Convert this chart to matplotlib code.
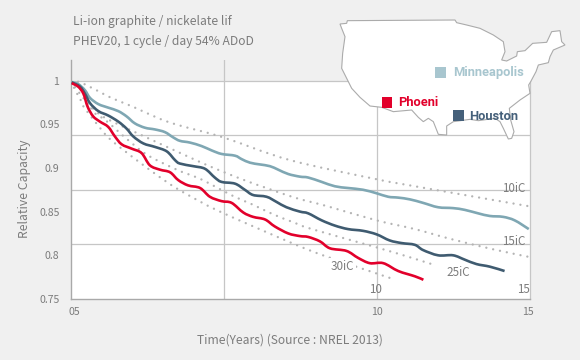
import matplotlib
matplotlib.use('Agg')
import matplotlib.pyplot as plt
from matplotlib.patches import Polygon, Rectangle, PathPatch
from matplotlib.path import Path
from matplotlib.transforms import ScaledTranslation
import numpy as np

# measured curves (years, relative capacity)
minneapolis_x = [0.04, 0.25, 0.47, 0.64, 0.91, 1.23, 1.56, 1.83, 2.10, 2.43, 2.76, 3.08, 3.35, 3.57, 3.90, 4.28, 4.61, 4.93, 5.37, 5.59, 5.86, 6.18, 6.51, 6.78, 7.11, 7.49, 7.76, 8.20, 8.63, 9.06, 9.55, 9.99, 10.37, 10.70, 11.08, 11.51, 12.0, 12.49, 12.87, 13.31, 13.69, 14.12, 14.5, 14.96]
minneapolis_y = [0.998, 0.996, 0.989, 0.980, 0.973, 0.969, 0.965, 0.959, 0.951, 0.946, 0.944, 0.941, 0.935, 0.931, 0.929, 0.925, 0.920, 0.916, 0.914, 0.910, 0.906, 0.904, 0.902, 0.898, 0.893, 0.890, 0.889, 0.884, 0.879, 0.877, 0.875, 0.871, 0.867, 0.866, 0.864, 0.860, 0.855, 0.854, 0.852, 0.848, 0.845, 0.844, 0.840, 0.830]
houston_x = [0.04, 0.31, 0.47, 0.64, 0.91, 1.23, 1.56, 1.83, 2.05, 2.38, 2.76, 3.14, 3.41, 3.57, 4.01, 4.39, 4.71, 4.93, 5.37, 5.69, 5.96, 6.40, 6.73, 7.05, 7.49, 7.76, 8.20, 8.63, 9.06, 9.55, 9.99, 10.42, 10.81, 11.24, 11.51, 12.0, 12.49, 12.87, 13.25, 13.69, 14.17]
houston_y = [0.998, 0.993, 0.985, 0.974, 0.965, 0.960, 0.953, 0.945, 0.936, 0.928, 0.924, 0.919, 0.909, 0.905, 0.902, 0.899, 0.889, 0.884, 0.882, 0.875, 0.869, 0.867, 0.861, 0.855, 0.850, 0.848, 0.840, 0.834, 0.830, 0.828, 0.824, 0.817, 0.814, 0.812, 0.806, 0.800, 0.800, 0.795, 0.790, 0.787, 0.782]
phoenix_x = [0.04, 0.25, 0.42, 0.56, 0.74, 0.96, 1.23, 1.45, 1.67, 2.0, 2.32, 2.59, 2.92, 3.25, 3.52, 3.84, 4.23, 4.55, 4.93, 5.26, 5.64, 5.96, 6.35, 6.67, 7.11, 7.49, 7.76, 8.14, 8.47, 9.01, 9.39, 9.77, 10.21, 10.70, 11.24, 11.52]
phoenix_y = [0.997, 0.993, 0.985, 0.970, 0.959, 0.953, 0.947, 0.936, 0.927, 0.922, 0.917, 0.903, 0.898, 0.895, 0.886, 0.880, 0.877, 0.867, 0.862, 0.860, 0.849, 0.844, 0.841, 0.833, 0.825, 0.822, 0.821, 0.816, 0.808, 0.805, 0.797, 0.791, 0.791, 0.782, 0.776, 0.772]

# dotted reference curves
ic10_x = [0.02, 0.31, 0.90, 1.34, 2.04, 2.86, 3.52, 4.98, 7.16, 10.0, 11.08, 14.99]
ic10_y = [0.999, 0.998, 0.988, 0.980, 0.970, 0.957, 0.949, 0.935, 0.909, 0.887, 0.880, 0.856]
ic15_x = [0.02, 0.18, 0.47, 0.96, 1.55, 2.04, 3.96, 4.81, 5.75, 6.40, 7.32, 8.40, 9.99, 11.24, 12.38, 13.78, 14.99]
ic15_y = [0.999, 0.991, 0.978, 0.961, 0.950, 0.942, 0.911, 0.898, 0.885, 0.877, 0.866, 0.856, 0.840, 0.830, 0.819, 0.807, 0.798]
ic25_x = [0.02, 0.41, 0.73, 1.13, 1.55, 1.81, 2.50, 3.47, 4.06, 4.49, 5.30, 5.95, 6.61, 7.26, 7.88, 10.0, 11.24, 11.96]
ic25_y = [0.999, 0.989, 0.965, 0.955, 0.942, 0.934, 0.915, 0.898, 0.890, 0.883, 0.868, 0.858, 0.847, 0.838, 0.830, 0.809, 0.796, 0.788]
ic30_x = [0.02, 0.18, 0.31, 0.41, 0.96, 1.32, 2.27, 3.18, 3.79, 4.88, 7.16, 8.24, 9.67, 10.52]
ic30_y = [0.999, 0.987, 0.980, 0.971, 0.946, 0.932, 0.906, 0.883, 0.870, 0.850, 0.815, 0.800, 0.783, 0.773]

y_ticks = [1, 0.95, 0.9, 0.85, 0.8, 0.75]
y_tick_labels = ['1', '0.95', '0.9', '0.85', '0.8', '0.75']
x_ticks = [0, 10, 15]
x_tick_labels = ['05', '10', '15']
y_grid = [1, 0.9375, 0.875, 0.8125]

map_outline = [(150, 72), (170, 70), (172, 62), (495, 60), (500, 68), (530, 75), (570, 85), (610, 105), (640, 125), (645, 155), (635, 180), (650, 183), (680, 168), (682, 155), (705, 152), (728, 130), (770, 127), (785, 95), (810, 92), (815, 125), (825, 135), (790, 150), (780, 170), (775, 188), (745, 195), (738, 215), (722, 245), (716, 255), (720, 280), (690, 300), (658, 325), (662, 360), (672, 395), (665, 415), (655, 417), (640, 385), (630, 365), (615, 355), (565, 362), (540, 358), (490, 365), (470, 378), (470, 405), (445, 403), (430, 365), (415, 355), (400, 365), (385, 352), (365, 330), (310, 335), (275, 322), (240, 318), (210, 292), (185, 265), (170, 235), (155, 205), (158, 160), (165, 110), (155, 85)]

BG = '#f0f0f0'
GRID = '#c6c6c6'
AXIS = '#a9a9a9'
TEXT = '#7c7c7c'
TEAL = '#7fa7b3'
NAVY = '#3f5b70'
RED = '#e2002b'
DOT = '#b4b4b4'
FONT = ['Noto Sans CJK KR', 'DejaVu Sans']

plt.rcParams['font.family'] = FONT


def smooth_path(xs, ys):
    # bezier through the read values, the reference curves have no corners
    p = np.column_stack([xs, ys])
    verts = [p[0]]
    codes = [Path.MOVETO]
    for i in range(len(p) - 1):
        before = p[max(i - 1, 0)]
        after = p[min(i + 2, len(p) - 1)]
        verts += [p[i] + (p[i + 1] - before) / 6, p[i + 1] - (after - p[i]) / 6, p[i + 1]]
        codes += [Path.CURVE4] * 3
    return Path(verts, codes)


fig = plt.figure(figsize=(5.8, 3.6), dpi=100, facecolor=BG)
ax = fig.add_axes([70.5 / 580, (360 - 299) / 360, 459.5 / 580, 239 / 360], facecolor=BG)
ax.set_xlim(0, 15)
ax.set_ylim(0.75, 1.0235)
ax.axhspan(0.75, 1, color='white', lw=0, zorder=0)

for v in y_grid:
    ax.plot([0, 15], [v, v], color=GRID, lw=0.9, zorder=1)
ax.plot([5, 5], [0.75, 1.0235], color=GRID, lw=0.9, zorder=1)
ax.plot([10, 10], [0.75, 1], color=GRID, lw=0.9, zorder=1)
ax.plot([15, 15], [0.75, 1], color=GRID, lw=0.9, zorder=1, clip_on=False)

for xs, ys in [(ic10_x, ic10_y), (ic15_x, ic15_y), (ic25_x, ic25_y), (ic30_x, ic30_y)]:
    ax.add_patch(PathPatch(smooth_path(xs, ys), facecolor='none', edgecolor=DOT, lw=1.7, capstyle='round',
                           linestyle=(0, (0.01, 2.95)), zorder=2))

ax.add_patch(PathPatch(smooth_path(minneapolis_x, minneapolis_y), facecolor='none', edgecolor=TEAL, lw=1.9, zorder=3))
ax.add_patch(PathPatch(smooth_path(houston_x, houston_y), facecolor='none', edgecolor=NAVY, lw=1.9, zorder=4))
ax.add_patch(PathPatch(smooth_path(phoenix_x, phoenix_y), facecolor='none', edgecolor=RED, lw=1.9, zorder=5))

for s in ['top', 'right']:
    ax.spines[s].set_visible(False)
for s in ['left', 'bottom']:
    ax.spines[s].set_color(AXIS)
    ax.spines[s].set_linewidth(1.0)

ax.set_yticks(y_ticks, y_tick_labels)
ax.set_xticks(x_ticks, x_tick_labels)
ax.tick_params(length=0, labelsize=7.6, labelcolor=TEXT)
ax.tick_params(axis='y', pad=8)
ax.tick_params(axis='x', pad=6)
# the outer x labels sit slightly inside the tick position
for lab, dx in zip(ax.get_xticklabels(), [3.5, 0, -2]):
    lab.set_transform(lab.get_transform() + ScaledTranslation(dx / 100, 0, fig.dpi_scale_trans))

# overlay in picture pixels for the map and free text
ov = fig.add_axes([0, 0, 1, 1], facecolor='none')
ov.set_xlim(0, 580)
ov.set_ylim(360, 0)
ov.axis('off')

pts = np.array(map_outline) / 3 + [290, 0]
ov.add_patch(Polygon(pts, closed=True, facecolor='white', edgecolor='#ababab', lw=0.8))

squares = [(435, 67, '#a8c6cf'), (381.7, 97, '#e2002b'), (453.3, 110, '#45607a')]
for x, y, c in squares:
    ov.add_patch(Rectangle((x, y), 10.7, 10.7, facecolor=c, edgecolor='none'))

map_font = dict(family=['Roboto', 'DejaVu Sans'], weight='bold', va='center', fontsize=9.3)
ov.text(452.7, 72.5, 'Minneapolis', color='#a8c6cf', **map_font)
ov.text(398.3, 102.5, 'Phoeni', color=RED, **map_font)
ov.text(469, 116, 'Houston', color='#45607a', **map_font)

ov.text(73, 21, 'Li-ion graphite / nickelate lif', color=TEXT, fontsize=8.7, va='center')
ov.text(73, 41, 'PHEV20, 1 cycle / day 54% ADoD', color=TEXT, fontsize=8.7, va='center')
ov.text(290, 340, 'Time(Years) (Source : NREL 2013)', color=TEXT, fontsize=8.7, ha='center', va='center')
ov.text(25, 189, 'Relative Capacity', color=TEXT, fontsize=8.8, rotation=90, ha='center', va='center')

ov.text(514, 188, '10iC', color=TEXT, fontsize=8.4, ha='center', va='center')
ov.text(514, 241.5, '15iC', color=TEXT, fontsize=8.4, ha='center', va='center')
ov.text(458, 272.5, '25iC', color=TEXT, fontsize=8.4, ha='center', va='center')
ov.text(342.5, 267, '30iC', color=TEXT, fontsize=8.4, ha='center', va='center',
        bbox=dict(facecolor='white', edgecolor='none', pad=1.5))
ov.text(375, 289.5, '10', color=TEXT, fontsize=8.4, ha='center', va='center')
ov.text(523.5, 289.5, '15', color=TEXT, fontsize=8.4, ha='center', va='center')

plt.savefig('out.png', dpi=100, facecolor=BG)
plt.close()
